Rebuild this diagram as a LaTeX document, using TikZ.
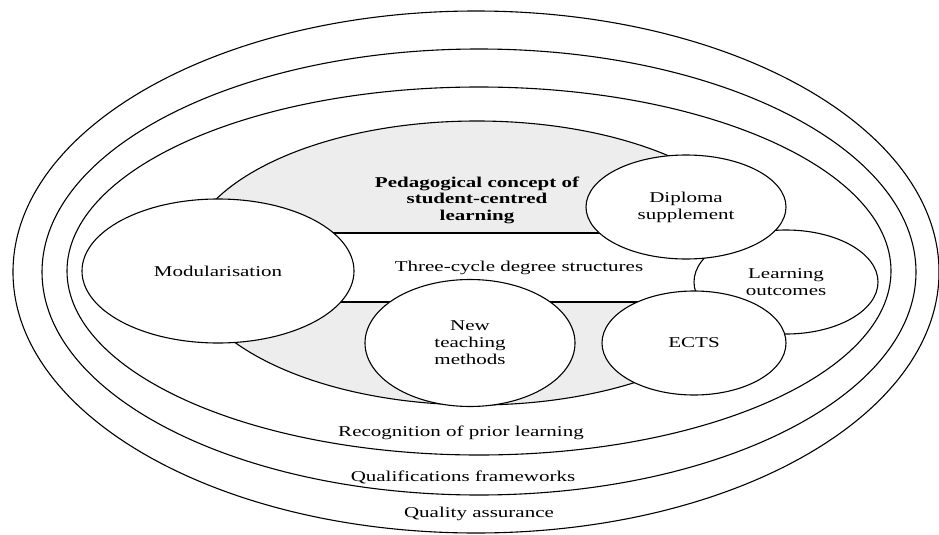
\documentclass[tikz,border=0pt]{standalone}
\usepackage{fontspec}
\setmainfont{Liberation Serif}[FakeStretch=1.4]
\usetikzlibrary{shapes.geometric}
\definecolor{innergray}{RGB}{237,237,237}
\begin{document}
\begin{tikzpicture}[x=1pt,y=-1pt,
  ring/.style={draw=black, line width=1.1pt},
  txt/.style={font=\fontsize{15}{17}\selectfont, align=center, inner sep=0pt},
  bubble/.style={ellipse, draw=black, line width=1.1pt, fill=white, inner sep=0pt, align=center, font=\fontsize{15}{17}\selectfont}]
\fill[white] (0,0) rectangle (939,535);
\useasboundingbox (0,0) rectangle (939,535);
% rings
\draw[ring] (476,272) ellipse [x radius=463pt, y radius=261pt];
\draw[ring] (479,272) ellipse [x radius=437pt, y radius=223pt];
\draw[ring] (479,271) ellipse [x radius=412pt, y radius=184pt];
% gray core
\draw[ring, fill=innergray] (477,263) ellipse [x radius=292pt, y radius=142pt];
% band
\draw[ring, fill=white] (300,233) rectangle (715,302);
% labels
\node[txt] (rpl) at (461,433) {Recognition of prior learning};
\node[txt] (qf) at (463,477) {Qualifications frameworks};
\node[txt] (qa) at (479,514) {Quality assurance};
\node[txt, font=\fontsize{15}{16.5}\selectfont\bfseries] (ped) at (477,200) {Pedagogical concept of\\student-centred\\learning};
\node[txt] (tcd) at (519,268) {Three-cycle degree structures};
% bubbles
\node[bubble, minimum width=272pt, minimum height=144pt] (mod) at (218,271) {Modularisation};
\node[bubble, minimum width=210pt, minimum height=127pt] (ntm) at (470,343) {New\\teaching\\methods};
\node[bubble, minimum width=184pt, minimum height=104pt] (lo) at (786,282) {Learning\\outcomes};
\node[bubble, minimum width=184pt, minimum height=104pt] (ects) at (694,343) {ECTS};
\node[bubble, minimum width=200pt, minimum height=104pt] (ds) at (686,207) {Diploma\\supplement};
\end{tikzpicture}
\end{document}
